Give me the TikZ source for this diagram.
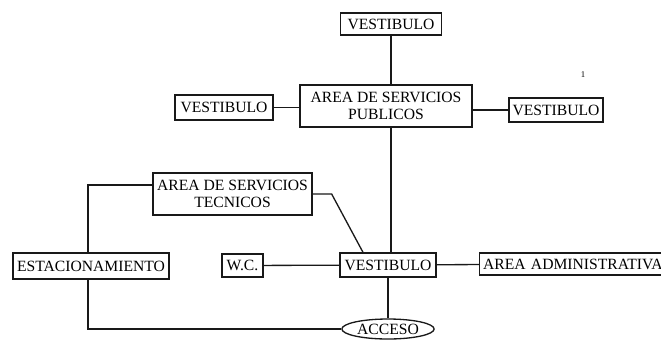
\documentclass[tikz,border=0pt]{standalone}
\usepackage{fontspec}
\setmainfont{Liberation Serif}
\usepackage{tikz}
\usetikzlibrary{arrows,shapes,positioning}
\tikzstyle{enlace} = [line width=0.75pt, color=black!90]
\tikzstyle{zona} = [rectangle, draw=black!90, line width=0.75pt, text centered, inner sep=2pt, font=\fontsize{8.9}{10}\selectfont]
\tikzstyle{entrada} = [ellipse, draw=black!90, line width=0.75pt, inner sep=1pt, font=\fontsize{8.9}{10}\selectfont]

\begin{document}
\begin{tikzpicture}
    \useasboundingbox (0,0) rectangle (13.22,-6.8);

    % Area publica
    \node[zona, minimum width=2.02cm, minimum height=0.44cm] (vtop) at (7.82, -0.48) {VESTIBULO};
    \node[zona, minimum width=3.44cm, minimum height=0.84cm, align=center] (publicos) at (7.72, -2.12) {AREA DE SERVICIOS\\PUBLICOS};
    \node[zona, minimum width=1.96cm, minimum height=0.5cm] (vleft) at (4.48, -2.15) {VESTIBULO};
    \node[zona, minimum width=1.88cm, minimum height=0.48cm] (vright) at (11.12, -2.2) {VESTIBULO};
    \node[font=\tiny] (marca) at (11.66, -1.5) {1};

    % Area tecnica
    \node[zona, minimum width=3.18cm, minimum height=0.84cm, align=center] (tecnicos) at (4.65, -3.88) {AREA DE SERVICIOS\\TECNICOS};
    \node[zona, minimum width=3.12cm, minimum height=0.52cm] (estac) at (1.82, -5.32) {ESTACIONAMIENTO};

    % Acceso principal
    \node[zona, minimum width=0.82cm, minimum height=0.46cm] (wc) at (4.85, -5.31) {W.C.};
    \node[zona, minimum width=1.92cm, minimum height=0.48cm] (vbot) at (7.76, -5.3) {VESTIBULO};
    \node[zona, anchor=west, minimum width=3.9cm, minimum height=0.44cm, text width=3.8cm, align=left] (admin) at (9.58, -5.28) {AREA ADMINISTRATIVA};
    \node[entrada, minimum width=1.7cm, minimum height=0.4cm] (acceso) at (7.76, -6.58) {ACCESO};

    % Conexiones
    \draw[enlace] (vtop.south) -- (vtop.south |- publicos.north);
    \draw[enlace] (vleft.east) -- (vleft.east -| publicos.west);
    \draw[enlace] (publicos.east |- vright.west) -- (vright.west);
    \draw[enlace] (publicos.south -| vtop.south) -- (vtop.south |- vbot.north);
    \draw[enlace] ([yshift=0.18cm]tecnicos.west) -| ([xshift=-0.06cm]estac.north);
    \draw[enlace] (tecnicos.east) -- ++(0.38,0) -- ([xshift=-0.5cm]vbot.north);
    \draw[enlace] (wc) -- (vbot);
    \draw[enlace] (vbot) -- (admin);
    \draw[enlace] (vbot) -- (acceso);
    \draw[enlace] ([xshift=-0.06cm]estac.south) |- (acceso.west);
\end{tikzpicture}
\end{document}
